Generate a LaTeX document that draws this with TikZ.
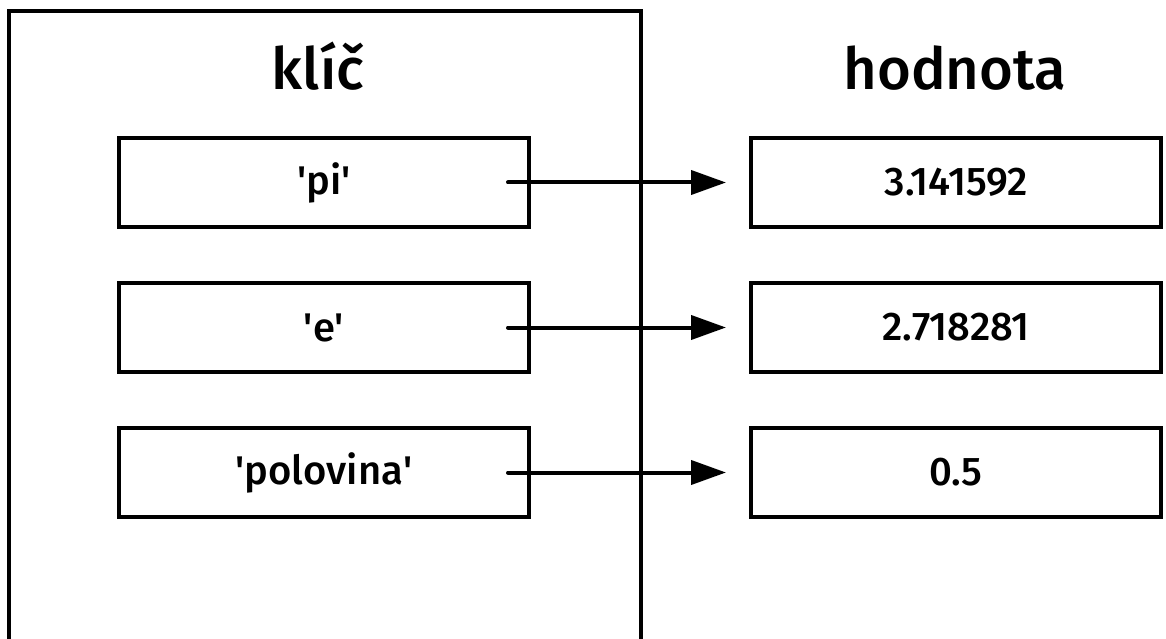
\documentclass[tikz,border=0pt]{standalone}
\usepackage{fontspec}
\setmainfont{Fira Sans}[UprightFont=* Medium]
\usetikzlibrary{arrows.meta}
\newcommand{\q}{\textquotesingle}
\begin{document}
\begin{tikzpicture}[x=1pt,y=-1pt,
  frame/.style={line width=4pt},
  cell/.style={draw,line width=4pt,minimum width=410pt,minimum height=89pt,inner sep=0pt,font=\fontsize{40}{48}\selectfont},
  head/.style={font=\fontsize{58}{66}\selectfont,anchor=base},
  link/.style={line width=4pt,line cap=round,-{Triangle[length=35pt,width=24pt]}}]
  \useasboundingbox (0,0) rectangle (1166,639);
  % outer frame of the key column, open at the bottom
  \draw[frame] (9,641) -- (9,11) -- (641,11) -- (641,641);
  % column titles
  \node[head] (hk) at (318,90) {klíč};
  \node[head] (hv) at (955,90) {hodnota};
  % key cells
  \node[cell] (k1) at (324,182.5) {\q pi\q};
  \node[cell] (k2) at (324,327.5) {\q e\q};
  \node[cell] (k3) at (324,472.5) {\q polovina\q};
  % value cells
  \node[cell] (v1) at (956,182.5) {3.141592};
  \node[cell] (v2) at (956,327.5) {2.718281};
  \node[cell] (v3) at (956,472.5) {0.5};
  % arrows from keys to values
  \foreach \i in {1,2,3} {
    \draw[link] ([xshift=-23pt]k\i.east) -- ([xshift=-23pt]v\i.west);
  }
\end{tikzpicture}
\end{document}
